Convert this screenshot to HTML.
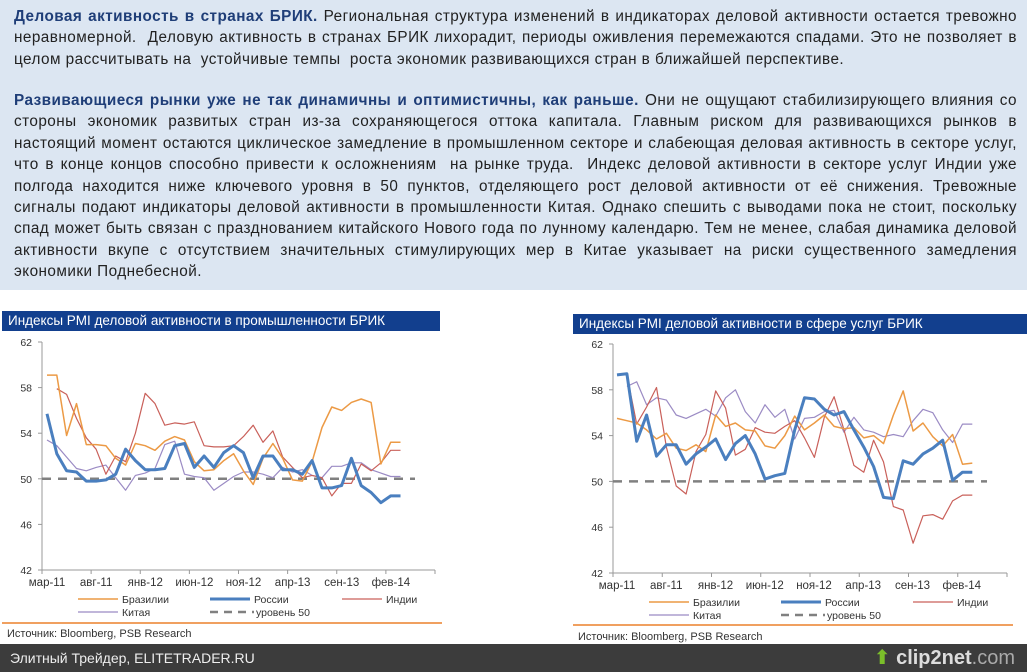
<!DOCTYPE html>
<html><head><meta charset="utf-8"><style>
body{margin:0;width:1027px;height:672px;overflow:hidden;background:#fff;font-family:"Liberation Sans","DejaVu Sans",sans-serif;position:relative}
#top{position:absolute;left:0;top:0;width:1027px;height:290px;background:#dce6f2}
#top p{margin:0;position:absolute;left:14px;width:1003px;font-size:15.3px;letter-spacing:0.45px;line-height:21.4px;color:#222;text-align:justify}
#top b{color:#1f3e78}
.bar{position:absolute;background:#123f8e;color:#fff;font-size:13.5px;line-height:20px;padding-left:6px;box-sizing:border-box}
.t{font-size:11px;fill:#333;font-family:"Liberation Sans",sans-serif}
#bot{position:absolute;left:0;top:644px;width:1027px;height:28px;background:#3c3c3c;color:#eee;font-size:14px;line-height:28px}
</style></head><body>
<div id="top">
<p style="top:6px"><b>Деловая активность в странах БРИК.</b> Региональная структура изменений в индикаторах деловой активности остается тревожно неравномерной.&nbsp; Деловую активность в странах БРИК лихорадит, периоды оживления перемежаются спадами. Это не позволяет в целом рассчитывать на&nbsp; устойчивые темпы&nbsp; роста экономик развивающихся стран в ближайшей перспективе.</p>
<p style="top:90px"><b>Развивающиеся рынки уже не так динамичны и оптимистичны, как раньше.</b> Они не ощущают стабилизирующего влияния со стороны экономик развитых стран из-за сохраняющегося оттока капитала. Главным риском для развивающихся рынков в настоящий момент остаются циклическое замедление в промышленном секторе и слабеющая деловая активность в секторе услуг, что в конце концов способно привести к осложнениям&nbsp; на рынке труда.&nbsp; Индекс деловой активности в секторе услуг Индии уже полгода находится ниже ключевого уровня в 50 пунктов, отделяющего рост деловой активности от её снижения. Тревожные сигналы подают индикаторы деловой активности в промышленности Китая. Однако спешить с выводами пока не стоит, поскольку спад может быть связан с празднованием китайского Нового года по лунному календарю. Тем не менее, слабая динамика деловой активности вкупе с отсутствием значительных стимулирующих мер в Китае указывает на риски существенного замедления экономики Поднебесной.</p>
</div>
<div class="bar" style="left:2px;top:311px;width:438px;height:20px">Индексы PMI деловой активности в промышленности БРИК</div>
<div class="bar" style="left:573px;top:314px;width:454px;height:20px">Индексы PMI деловой активности в сфере услуг БРИК</div>
<svg id="s" width="1027" height="672" style="position:absolute;left:0;top:0"></svg>
<div id="bot"><span style="margin-left:10px">Элитный Трейдер, ELITETRADER.RU</span><span style="position:absolute;right:12px;font-size:20px;color:#ddd;font-weight:bold"><span style="color:#7bbf2a">⬆</span> clip2net<span style="color:#aaa;font-weight:normal">.com</span></span></div>
<script>
var N=null;
var L={ax:42,top:342,bot:570,x0:47,dx:9.82,end:435,lab:586,leg:599,sep:623,src:633,
br:[59.1,59.1,53.8,56.6,53,53,52.9,51.8,51.2,53.1,52.9,52.5,53.3,53.7,53.4,51.5,50.7,50.8,51.6,52.2,50.7,49.5,51.8,53.1,51.8,49.9,49.8,51.5,54.5,56.3,56,56.7,57,56.7,51.3,53.2,53.2],
ru:[55.7,52.2,50.7,50.6,49.8,49.8,49.9,50.4,52.6,51.6,50.8,50.8,50.9,52.9,53.1,51,52,51,52.3,52.9,52.3,50.1,52,52,50.8,50.8,50.4,51.6,49.2,49.2,49.4,51.8,49.4,48.8,47.9,48.5,48.5],
in:[N,57.9,57.4,55.3,53.6,52.6,50.4,52,51.5,54,57.5,56.6,54.7,54.9,54.8,55,52.9,52.8,52.8,52.9,53.7,54.7,53.2,54.2,51.9,51,50.1,50.3,50.1,48.5,49.6,49.6,51.3,50.7,51.4,52.5,52.5],
cn:[53.4,52.9,51.9,50.9,50.7,51,51.2,50.1,49,50.3,50.5,50.9,53,53.3,50.4,50.2,50.1,49,49.6,50.2,50.6,50.6,50.4,50.1,51,50.6,50.8,50.3,50.1,51.1,51.1,51.4,51.4,50.8,50.5,50.2,50.2]};
var R={ax:613,top:344,bot:573,x0:617,dx:9.87,end:1007,lab:589,leg:602,sep:625,src:636,
br:[55.5,55.3,55.1,54.5,53.7,54.2,52.9,52.7,53.2,52.6,55.8,54.8,55.1,54.5,54.4,53.1,52.9,54,55.7,54.5,55.1,55.8,54.8,54.6,54.7,53.8,54,53.3,55.8,57.9,54.4,55.1,53.9,53.1,54.1,51.5,51.6],
ru:[59.3,59.4,53.5,55.8,52.2,53.2,53.2,51.5,52.4,53,53.7,51.9,53.3,54,52.4,50.2,50.5,50.7,54.5,57.3,57.2,56.3,55.8,56.1,54.5,53,51.3,48.6,48.5,51.8,51.5,52.4,52.9,53.6,50.1,50.8,50.8],
in:[N,59.3,55,56.5,58.2,53,49.6,48.9,52.6,54.1,57.9,56.4,52.3,52.8,54.7,54.3,54.2,54.8,55.3,53.8,52.1,55.6,57.4,54.5,51.4,50.8,53.6,51.7,47.8,47.5,44.6,47,47.1,46.7,48.3,48.8,48.8],
cn:[N,58.3,58.7,56.7,57.3,57.1,55.8,55.5,55.9,56.3,55.7,57.3,58,56.1,55.1,56.7,55.6,56.3,53.7,55.5,55.6,56.1,56.2,54.3,55.6,54.5,54.3,53.9,54.1,53.9,55.3,56.3,56,54.5,53.4,55,55]};
var h='';
function line(x1,y1,x2,y2,c,w,d){h+='<line x1="'+x1+'" y1="'+y1+'" x2="'+x2+'" y2="'+y2+'" stroke="'+c+'" stroke-width="'+w+'"'+(d?' stroke-dasharray="'+d+'"':'')+'/>';}
function txt(x,y,s,a,sz){h+='<text class="t" x="'+x+'" y="'+y+'"'+(a?' text-anchor="'+a+'"':'')+(sz?' style="font-size:'+sz+'px"':'')+'>'+s+'</text>';}
function chart(C){
 var Y=function(v){return C.bot-(v-42)*(C.bot-C.top)/20;};
 line(C.ax,C.top,C.ax,C.bot,'#999',1);line(C.ax,C.bot,C.end,C.bot,'#999',1);
 for(var v=42;v<=62;v+=4){var y=Y(v);line(C.ax-4,y,C.ax,y,'#999',1);txt(C.ax-10,y+4,v,'end',10.5);}
 var st=(C.end-C.ax)/8,labs=['мар-11','авг-11','янв-12','июн-12','ноя-12','апр-13','сен-13','фев-14'];
 for(var k=0;k<=8;k++){line(C.ax+st*k,C.bot,C.ax+st*k,C.bot+4,'#999',1);}
 for(k=0;k<8;k++)txt(C.x0+st*k,C.lab,labs[k],'middle',11.5);
 line(C.ax,Y(50),C.end-20,Y(50),'#808080',2.5,'9,7');
 function pl(a,c,w){var p=[];a.forEach(function(v,i){if(v!==null)p.push((C.x0+C.dx*i).toFixed(1)+','+Y(v).toFixed(1));});h+='<polyline points="'+p.join(' ')+'" fill="none" stroke="'+c+'" stroke-width="'+w+'" stroke-linejoin="round"/>';}
 pl(C.cn,'#9b8bc4',1.2);pl(C.in,'#c9605a',1.2);pl(C.br,'#ec9a45',1.5);pl(C.ru,'#4a7fbf',3);
 var b=C.ax+18;
 line(b+18,C.leg,b+58,C.leg,'#ec9a45',1.5);txt(b+62,C.leg+4,'Бразилии','',10.5);
 line(b+150,C.leg,b+190,C.leg,'#4a7fbf',3);txt(b+194,C.leg+4,'России','',10.5);
 line(b+282,C.leg,b+322,C.leg,'#c9605a',1.2);txt(b+326,C.leg+4,'Индии','',10.5);
 line(b+18,C.leg+13,b+58,C.leg+13,'#9b8bc4',1.2);txt(b+62,C.leg+17,'Китая','',10.5);
 line(b+150,C.leg+13,b+194,C.leg+13,'#808080',2.5,'8,6');txt(b+196,C.leg+17,'уровень 50','',10.5);
 line(C.ax-40,C.sep,C.ax+400,C.sep,'#f0a060',2);
 txt(C.ax-35,C.src+4,'Источник: Bloomberg, PSB Research','',11);
}
chart(L);chart(R);
document.getElementById('s').innerHTML=h;
</script>
</body></html>
